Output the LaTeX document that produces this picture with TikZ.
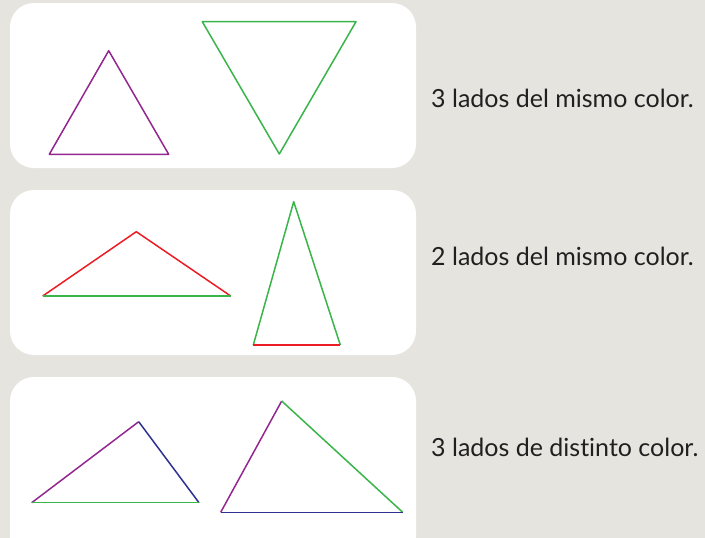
\documentclass[tikz,border=0pt]{standalone}
\usepackage{fontspec}
\setmainfont[Ligatures={NoCommon}]{Lato}
\usepackage{tikz}
\usetikzlibrary{calc,positioning}
\definecolor{fondogris}{RGB}{230,228,223}
\definecolor{ladomorado}{RGB}{147,39,143}
\definecolor{ladoverde}{RGB}{57,181,74}
\definecolor{ladorojo}{RGB}{237,28,36}
\definecolor{ladoazul}{RGB}{46,49,146}
\definecolor{textogris}{RGB}{35,31,32}

\begin{document}
\begin{tikzpicture}[x=1pt,y=-1pt,line join=round,
    caja/.style={fill=white,rounded corners=24pt},
    lado/.style={line width=1.5pt},
    rotulo/.style={anchor=base west,inner sep=0pt,text=textogris,
      font=\fontsize{25}{28}\selectfont}]
  \fill[fondogris] (0,0) rectangle (705,538);
  \useasboundingbox (0,0) rectangle (705,538);
  % cajas
  \fill[caja] (10,3) rectangle (416,168);
  \fill[caja] (10,190) rectangle (416,355);
  \fill[caja] (10,377) rectangle (416,560);
  % equilateros
  \coordinate (ea1) at (49.3,154.3);
  \coordinate (eb1) at (108.7,50.7);
  \coordinate (ec1) at (168.7,154.3);
  \draw[lado,ladomorado] (ea1)--(eb1)--(ec1)--cycle;
  \coordinate (ea2) at (202.3,21.7);
  \coordinate (eb2) at (356,21.7);
  \coordinate (ec2) at (279.3,154);
  \draw[lado,ladoverde] (ea2)--(eb2)--(ec2)--cycle;
  \node[rotulo] (texto1) at (431,107) {3 lados del mismo color.};
  % isosceles
  \coordinate (ia1) at (42.7,296);
  \coordinate (ib1) at (136.3,231.7);
  \coordinate (ic1) at (230.7,296);
  \draw[lado,ladorojo] (ia1)--(ib1)--(ic1);
  \draw[lado,ladoverde] (ia1)--(ic1);
  \coordinate (ia2) at (253.3,345);
  \coordinate (ib2) at (293.7,201.7);
  \coordinate (ic2) at (340.3,345);
  \draw[lado,ladoverde] (ia2)--(ib2)--(ic2);
  \draw[lado,ladorojo] (ia2)--(ic2);
  \node[rotulo] (texto2) at (431,265) {2 lados del mismo color.};
  % escalenos
  \coordinate (sa1) at (31.7,502.7);
  \coordinate (sb1) at (138.7,421.7);
  \coordinate (sc1) at (199,502.7);
  \draw[lado,ladomorado] (sa1)--(sb1);
  \draw[lado,ladoazul] (sb1)--(sc1);
  \draw[lado,ladoverde] (sa1)--(sc1);
  \coordinate (sa2) at (220.7,512.3);
  \coordinate (sb2) at (281.7,401);
  \coordinate (sc2) at (402.7,512.3);
  \draw[lado,ladomorado] (sa2)--(sb2);
  \draw[lado,ladoverde] (sb2)--(sc2);
  \draw[lado,ladoazul] (sa2)--(sc2);
  \node[rotulo] (texto3) at (431,456) {3 lados de distinto color.};
\end{tikzpicture}
\end{document}
